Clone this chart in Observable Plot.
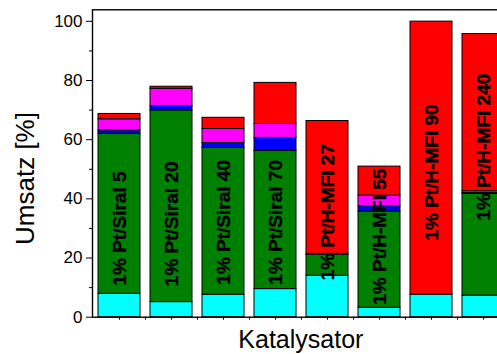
<!DOCTYPE html>
<html>
<head>
<meta charset="utf-8">
<script src="https://cdn.jsdelivr.net/npm/d3@7"></script>
<script src="https://cdn.jsdelivr.net/npm/@observablehq/plot@0.6"></script>
<style>
  html, body { margin: 0; padding: 0; background: white; overflow: hidden; }
  #chart svg { display: block; }
</style>
</head>
<body>
<div id="chart"></div>
<script>
// Categories (catalysts)
const categories = ["1% Pt/Siral 5", "1% Pt/Siral 20", "1% Pt/Siral 40", "1% Pt/Siral 70",
                    "1% Pt/H-MFI 27", "1% Pt/H-MFI 55", "1% Pt/H-MFI 90", "1% Pt/H-MFI 240"];
// Stack series, bottom to top
const series = ["cyan", "green", "blue", "magenta", "red"];
const seriesColors = ["#00ffff", "#007f00", "#0000ff", "#ff00ff", "#ff0000"];
// Segment values (%), one per category
const cyanValues    = [7.9, 5.1, 7.6, 9.5, 14.0, 3.2, 7.6, 7.3];
const greenValues   = [54.1, 64.8, 49.6, 46.7, 7.1, 32.5, 0, 34.4];
const blueValues    = [1.1, 1.5, 1.7, 4.4, 0.3, 1.8, 0, 0.3];
const magentaValues = [3.8, 5.8, 4.7, 4.7, 0, 3.6, 0, 0.6];
const redValues     = [1.8, 0.7, 3.8, 13.9, 44.9, 9.8, 92.3, 53.1];
// Where each rotated bar label starts (in % units)
const labelStart = [10.7, 10.5, 11.0, 11.0, 12.5, 4.2, 25.9, 32.7];
// Axis ticks
const yMajorTicks = [0, 20, 40, 60, 80, 100];
const yMinorTicks = [10, 30, 50, 70, 90];
const yLabel = "Umsatz [%]";
const xLabel = "Katalysator";

const seriesValues = [cyanValues, greenValues, blueValues, magentaValues, redValues];
const table = [];
series.forEach((s, si) => {
  categories.forEach((c, ci) => {
    table.push({cat: c, series: s, value: seriesValues[si][ci]});
  });
});
const labels = categories.map((c, i) => ({cat: c, y: labelStart[i]}));

const font = "'Liberation Sans', Arial, Helvetica, sans-serif";

const plot = Plot.plot({
  width: 497,
  height: 354,
  marginLeft: 92,
  marginRight: -11.7,
  marginTop: 9.3,
  marginBottom: 37.3,
  style: {fontFamily: font, background: "white"},
  x: {domain: categories, paddingInner: 0.2, paddingOuter: 0.1, axis: null},
  y: {domain: [0, 103.9], nice: false, axis: null},
  color: {domain: series, range: seriesColors},
  marks: [
    Plot.barY(table, Plot.stackY({
      x: "cat", y: "value", fill: "series", order: series,
      stroke: "black", strokeWidth: 1
    })),
    Plot.text(labels, {
      x: "cat", y: "y", text: "cat", rotate: -90, textAnchor: "start",
      fontWeight: "bold", fontSize: 19, fill: "black",
      stroke: "black", strokeWidth: 0.35
    }),
    Plot.axisY({ticks: yMajorTicks, tickSize: 6, tickPadding: 4, fontSize: 17,
                label: null, color: "black"}),
    Plot.axisY({ticks: yMinorTicks, tickSize: 3, text: null, label: null}),
    Plot.axisX({tickSize: 3, text: null, label: null}),
    Plot.axisX({ticks: categories.slice(0, -1), tickSize: 3, text: null, label: null, dx: 26}),
    Plot.frame({stroke: "black", strokeWidth: 1.4}),
    Plot.text([yLabel], {frameAnchor: "left", textAnchor: "middle", lineAnchor: "middle",
                         dx: -66.5, dy: 15, rotate: -90, fontSize: 26, fill: "black"}),
    Plot.text([xLabel], {frameAnchor: "bottom", textAnchor: "middle", lineAnchor: "middle",
                         dy: 23, fontSize: 25, fill: "black"})
  ]
});
document.getElementById("chart").appendChild(plot);
</script>
</body>
</html>
